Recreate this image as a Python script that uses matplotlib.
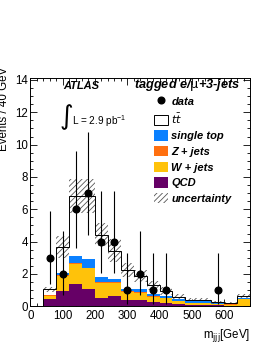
import matplotlib
matplotlib.use("Agg")
import matplotlib.pyplot as plt
import numpy as np
from matplotlib.patches import Patch
from matplotlib.lines import Line2D
from matplotlib.ticker import MultipleLocator

plt.rcParams['font.family'] = ['Liberation Sans', 'DejaVu Sans']
plt.rcParams['hatch.linewidth'] = 0.6

# ---- data ----
bin_edges = [40, 80, 120, 160, 200, 240, 280, 320, 360, 400, 440, 480, 520, 560, 600, 640, 680]
qcd      = [0.43, 0.96, 1.36, 1.05, 0.49, 0.65, 0.37, 0.37, 0.28, 0.22, 0.14, 0.10, 0.07, 0.05, 0.04, 0.02]
wjets    = [0.22, 0.91, 1.27, 1.29, 0.97, 0.81, 0.53, 0.47, 0.32, 0.27, 0.19, 0.12, 0.15, 0.10, 0.06, 0.41]
zjets    = [0.02, 0.05, 0.05, 0.05, 0.03, 0.03, 0.02, 0.02, 0.02, 0.02, 0.01, 0.01, 0.01, 0.01, 0.02, 0.01]
singletop= [0.03, 0.12, 0.42, 0.53, 0.31, 0.21, 0.15, 0.19, 0.12, 0.11, 0.09, 0.09, 0.07, 0.04, 0.01, 0.05]
ttbar    = [0.35, 1.64, 3.73, 3.91, 2.64, 1.75, 1.17, 0.82, 0.55, 0.33, 0.17, 0.10, 0.11, 0.05, 0.05, 0.14]
uncert   = [0.17, 0.69, 1.07, 1.07, 0.69, 0.72, 0.42, 0.36, 0.28, 0.23, 0.15, 0.10, 0.10, 0.08, 0.06, 0.14]

data_x   = [60, 100, 140, 180, 220, 260, 300, 340, 380, 420, 580]
data_y   = [3, 2, 6, 7, 4, 4, 1, 2, 1, 1, 1]
data_lo  = [1.37, 0.71, 3.62, 4.42, 2.09, 2.09, 0.17, 0.71, 0.17, 0.17, 0.17]
data_hi  = [5.92, 4.64, 9.58, 10.77, 7.16, 7.16, 3.30, 4.64, 3.30, 3.30, 3.30]

c_qcd, c_w, c_z, c_st = '#660066', '#FFC20A', '#FF7010', '#0A80FF'

fig = plt.figure(figsize=(2.74, 3.55), dpi=100)
ax = fig.add_axes([30.3/274, 1-306.3/355, (250-30.3)/274, (306.3-78)/355])

edges = np.array(bin_edges, dtype=float)
left = edges[:-1]
width = np.diff(edges)
bottom = np.zeros(len(left))
for vals, col in [(qcd, c_qcd), (wjets, c_w), (zjets, c_z), (singletop, c_st)]:
    ax.bar(left, vals, width=width, bottom=bottom, align='edge', color=col, linewidth=0, zorder=2)
    bottom = bottom + np.array(vals)
ax.bar(left, ttbar, width=width, bottom=bottom, align='edge', color='white', linewidth=0, zorder=2)
total = bottom + np.array(ttbar)
unc = np.array(uncert)
ax.bar(left, 2*unc, width=width, bottom=total-unc, align='edge', fill=False,
       hatch='//////', edgecolor='#555555', linewidth=0, zorder=3)
ax.stairs(total, edges, color='black', linewidth=0.7, zorder=4, baseline=None)
ax.vlines([edges[0], edges[-1]], 0, [total[0], total[-1]], color='black', linewidth=0.7, zorder=4)

dy = np.array(data_y, float)
yerr = [dy - np.array(data_lo), np.array(data_hi) - dy]
ax.errorbar(data_x, data_y, yerr=yerr, fmt='o', color='black', markersize=4.8,
            elinewidth=0.8, capsize=0, zorder=5)

ax.set_xlim(0, 680)
ax.set_ylim(0, 14.12)
ax.xaxis.set_major_locator(MultipleLocator(100))
ax.xaxis.set_minor_locator(MultipleLocator(20))
ax.yaxis.set_major_locator(MultipleLocator(2))
ax.yaxis.set_minor_locator(MultipleLocator(0.5))
ax.tick_params(which='both', direction='in', top=True, right=True, labelsize=8.3, width=0.6)
ax.tick_params(which='major', length=5)
ax.tick_params(which='minor', length=2.5)
ax.tick_params(axis='y', pad=1.5)
ax.tick_params(axis='x', pad=2.5)
for s in ax.spines.values():
    s.set_linewidth(0.7)

fig.text(4.5/274, 1-67/355, 'Events / 40 GeV', rotation=90, ha='center', va='top', fontsize=8.3)
fig.text(250/274, 1-336/355, r'm$_{\mathrm{jjj}}$[GeV]', ha='right', va='center', fontsize=8.3)

fig.text(63/274, 1-86/355, 'ATLAS', fontsize=8, fontweight='bold', style='italic', ha='left', va='center')
fig.text(240/274, 1-85/355, r'tagged e/$\mathrm{\mu}$+3-jets', fontsize=9.2, fontweight='bold',
         style='italic', ha='right', va='center')
fig.text(60/274, 1-117.5/355, '\u222b', fontsize=19, family=['DejaVu Sans'], ha='left', va='center')
fig.text(72/274, 1-121.5/355, r'L = 2.9 pb$^{\mathregular{-1}}$', fontsize=7.2, ha='left', va='center')

handles = [
    Line2D([], [], marker='o', color='black', linestyle='none', markersize=4.8),
    Patch(facecolor='white', edgecolor='black', linewidth=0.7),
    Patch(facecolor=c_st, linewidth=0),
    Patch(facecolor=c_z, linewidth=0),
    Patch(facecolor=c_w, linewidth=0),
    Patch(facecolor=c_qcd, linewidth=0),
    Patch(facecolor='white', edgecolor='#555555', hatch='//////', linewidth=0),
]
labels = ['data', r'$t\bar{t}$', 'single top', 'Z + jets', 'W + jets', 'QCD', 'uncertainty']
leg = fig.legend(handles, labels, loc='upper left', bbox_to_anchor=(154/274, 1-96/355),
                 frameon=False, handlelength=1.25, handleheight=1.05,
                 labelspacing=0.42, handletextpad=0.3, borderaxespad=0, borderpad=0,
                 prop={'weight': 'bold', 'style': 'italic', 'size': 8})

fig.savefig('out.png', dpi=100)
